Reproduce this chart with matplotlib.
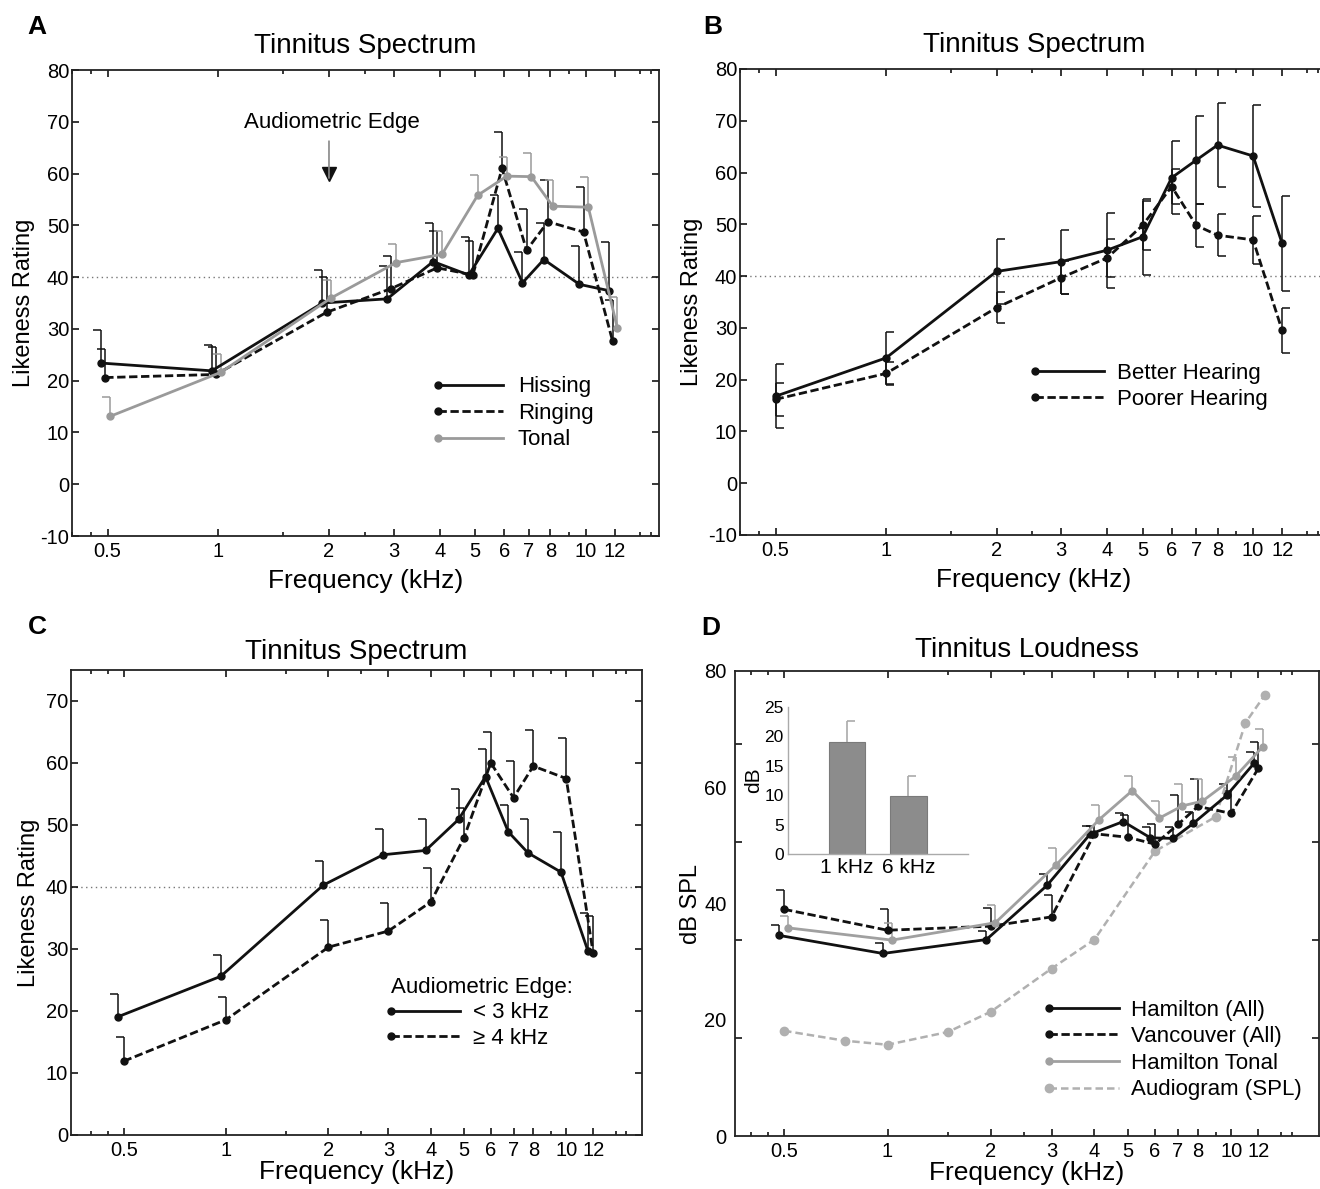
import numpy as np
import matplotlib
matplotlib.use('Agg')
import matplotlib.pyplot as plt
from matplotlib.ticker import NullFormatter
from matplotlib.legend_handler import HandlerLine2D
from matplotlib.lines import Line2D

plt.rcParams['font.family'] = ['Liberation Sans', 'DejaVu Sans']
plt.rcParams['axes.unicode_minus'] = False

# ---- data ----
freqs = [0.5, 1, 2, 3, 4, 5, 6, 7, 8, 10, 12]
freq_labels = ['0.5', '1', '2', '3', '4', '5', '6', '7', '8', '10', '12']
minor_freqs = [0.4, 0.45, 1.5, 2.5, 9, 14, 15]

# A: tinnitus type
hissing = [23.4, 21.9, 35.0, 35.8, 43.0, 40.4, 49.4, 38.9, 43.4, 38.6, 37.4]
hissing_err = [6.3, 5.0, 6.3, 6.4, 7.5, 7.3, 6.5, 6.0, 7.0, 7.5, 9.4]
ringing = [20.6, 21.2, 33.2, 37.8, 41.8, 40.4, 61.0, 45.2, 50.7, 48.7, 27.6]
ringing_err = [5.6, 5.3, 6.8, 6.2, 7.2, 6.6, 7.0, 8.0, 8.1, 8.7, 8.0]
tonal = [13.1, 21.6, 36.0, 42.8, 44.4, 55.8, 59.5, 59.4, 53.7, 53.5, 30.1]
tonal_err = [3.7, 3.5, 3.5, 3.6, 4.6, 3.9, 3.7, 4.6, 5.0, 5.8, 6.0]

# B: hearing
better = [16.8, 24.2, 40.9, 42.8, 45.0, 47.6, 59.0, 62.4, 65.3, 63.2, 46.3]
better_err = [6.2, 5.1, 6.3, 6.2, 7.2, 7.3, 7.0, 8.5, 8.1, 9.8, 9.1]
poorer = [16.2, 21.2, 33.9, 39.7, 43.5, 49.8, 57.3, 49.8, 47.9, 47.0, 29.5]
poorer_err = [3.2, 2.3, 3.0, 3.2, 3.7, 4.8, 3.3, 4.1, 4.0, 4.7, 4.4]

# C: audiometric edge
edge_lt3 = [19.1, 25.6, 40.3, 45.2, 45.9, 50.9, 57.8, 48.9, 45.5, 42.4, 29.7]
edge_lt3_err = [3.7, 3.5, 3.9, 4.1, 5.1, 4.9, 4.4, 4.4, 5.5, 6.5, 6.1]
edge_ge4 = [11.9, 18.6, 30.3, 32.9, 37.6, 47.9, 60.0, 54.4, 59.5, 57.5, 29.3]
edge_ge4_err = [3.9, 3.6, 4.4, 4.5, 5.4, 4.8, 5.0, 6.0, 5.8, 6.6, 6.0]

# D: loudness
hamilton = [34.5, 31.4, 33.8, 43.1, 51.9, 54.1, 51.3, 51.2, 53.8, 58.6, 64.1]
hamilton_err = [1.8, 1.8, 1.5, 2.0, 1.5, 1.5, 1.8, 2.0, 2.0, 2.0, 2.0]
vancouver = [39.0, 35.4, 36.1, 37.7, 52.0, 51.4, 50.2, 53.6, 56.7, 55.5, 63.3]
vancouver_err = [3.4, 3.7, 3.2, 3.8, 1.4, 3.8, 3.4, 5.0, 4.8, 3.8, 4.5]
ham_tonal = [35.8, 33.7, 36.7, 46.6, 54.4, 59.4, 54.7, 56.8, 57.6, 61.9, 67.0]
ham_tonal_err = [2.0, 2.9, 3.1, 2.9, 2.6, 2.6, 2.9, 3.8, 3.9, 3.3, 3.0]
audio_freqs = [0.5, 0.75, 1, 1.5, 2, 3, 4, 6, 9, 11, 12.5]
audiogram = [18.1, 16.4, 15.7, 17.9, 21.4, 28.8, 33.8, 49.0, 54.9, 71.1, 75.8]

inset_labels = ['1 kHz', '6 kHz']
inset_vals = [19.0, 9.8]
inset_err = [3.6, 3.5]

edge_freq = 2

BLACK = '#111111'
GREY = '#9a9a9a'
LIGHT = '#aaaaaa'

W, H = 1320, 1189


def box(l, t, r, b):
    return [l / W, 1 - b / H, (r - l) / W, (b - t) / H]


class DotLeft(HandlerLine2D):
    def create_artists(self, *args, **kw):
        arts = super().create_artists(*args, **kw)
        for a in arts:
            a.set_markevery([0])
        return arts


def style_axis(ax, xlim, labelpad=6):
    ax.set_xscale('log')
    ax.set_xlim(*xlim)
    ax.set_xticks(freqs, freq_labels)
    ax.set_xticks(minor_freqs, minor=True)
    ax.xaxis.set_minor_formatter(NullFormatter())
    ax.tick_params(which='both', direction='in', top=True, right=True,
                   labelsize=14.5, pad=4)
    ax.tick_params(which='major', length=5, width=1.1)
    ax.tick_params(which='minor', length=3, width=1.1)
    ax.tick_params(axis='y', pad=2)
    for s in ax.spines.values():
        s.set_linewidth(1.3)
        s.set_color('#222222')
    ax.set_xlabel('Frequency (kHz)', fontsize=19, labelpad=labelpad)


def series(ax, x, y, err, color, dashed=False, lw=2.0, both=False,
           cap=0, label=None, ms=5):
    x = np.asarray(x, float)
    y = np.asarray(y, float)
    e = np.asarray(err, float)
    lo = y - e if both else y
    ax.vlines(x, lo, y + e, color=color, lw=1.1, zorder=2)
    ax.plot(x, y + e, ls='none', marker=cap, ms=6, mew=1.1, color=color, zorder=2)
    if both:
        ax.plot(x, y - e, ls='none', marker=cap, ms=6, mew=1.1, color=color, zorder=2)
    ls = (0, (3, 1.3)) if dashed else '-'
    ax.plot(x, y, ls=ls, lw=lw, color=color, marker='o', ms=ms,
            label=label, zorder=3)


def ref_line(ax):
    ax.axhline(40, color='#777777', lw=1.0, ls=(0, (1, 2.5)), zorder=1)


fig = plt.figure(figsize=(13.2, 11.89), dpi=100)

# ---------- A ----------
axA = fig.add_axes(box(72, 70, 659, 536))
style_axis(axA, (0.4, 15.8))
axA.set_ylim(-10, 80)
axA.set_yticks(range(-10, 81, 10))
ref_line(axA)
f = np.array(freqs)
series(axA, f * 0.96, hissing, hissing_err, BLACK, label='Hissing')
series(axA, f * 0.985, ringing, ringing_err, BLACK, dashed=True, label='Ringing')
series(axA, f * 1.015, tonal, tonal_err, GREY, label='Tonal')
axA.annotate('', xy=(edge_freq, 58.6), xytext=(edge_freq, 66.8),
             arrowprops=dict(arrowstyle='-', color='#888888', lw=1.2))
axA.plot([edge_freq], [60.0], marker='v', ms=10, color=BLACK, ls='none')
axA.text(edge_freq * 1.02, 69.8, 'Audiometric Edge', ha='center', va='center',
         fontsize=16)
axA.set_ylabel('Likeness Rating', fontsize=17, labelpad=4)
axA.set_title('Tinnitus Spectrum', fontsize=20, pad=12)
axA.legend(loc='center left', bbox_to_anchor=(0.623, 0.263), frameon=False,
           fontsize=16, handlelength=2.95, handletextpad=0.65, labelspacing=0.25,
           borderpad=0, borderaxespad=0, handler_map={Line2D: DotLeft()})

# ---------- B ----------
axB = fig.add_axes(box(740, 69, 1328, 535))
style_axis(axB, (0.4, 16))
axB.set_ylim(-10, 80)
axB.set_yticks(range(-10, 81, 10))
ref_line(axB)
series(axB, f, better, better_err, BLACK, both=True, cap=1, label='Better Hearing')
series(axB, f, poorer, poorer_err, BLACK, dashed=True, both=True, cap=1,
       label='Poorer Hearing')
axB.set_ylabel('Likeness Rating', fontsize=17, labelpad=4)
axB.set_title('Tinnitus Spectrum', fontsize=20, pad=12)
axB.legend(loc='center left', bbox_to_anchor=(0.502, 0.319), frameon=False,
           fontsize=16, handlelength=3.1, handletextpad=0.6, labelspacing=0.2,
           borderpad=0, borderaxespad=0, handler_map={Line2D: DotLeft()})

# ---------- C ----------
axC = fig.add_axes(box(71, 670, 642, 1135))
style_axis(axC, (0.35, 16.7), labelpad=0)
axC.set_ylim(0, 75)
axC.set_yticks(range(0, 71, 10))
ref_line(axC)
series(axC, f * 0.965, edge_lt3, edge_lt3_err, BLACK, label='< 3 kHz')
series(axC, f, edge_ge4, edge_ge4_err, BLACK, dashed=True, label='\u2265 4 kHz')
axC.set_ylabel('Likeness Rating', fontsize=17, labelpad=4)
axC.set_title('Tinnitus Spectrum', fontsize=20, pad=8)
axC.legend(loc='upper left', bbox_to_anchor=(0.56, 0.34), frameon=False,
           fontsize=16, title='Audiometric Edge:', title_fontsize=16,
           alignment='left', handlelength=3.1, handletextpad=0.6,
           labelspacing=0.2, borderpad=0, borderaxespad=0,
           handler_map={Line2D: DotLeft()})

# ---------- D ----------
axD = fig.add_axes(box(735, 671, 1319, 1136))
style_axis(axD, (0.36, 18), labelpad=0)
axD.set_ylim(0, 80)
axD.set_yticks([0, 20, 40, 60, 80])
axD.set_yticks(np.arange(1, 5) * 80 / 95 * 20, minor=True)
axD.tick_params(axis='y', which='major', length=0, pad=6)
axD.tick_params(axis='y', which='minor', length=5)
series(axD, f * 0.97, hamilton, hamilton_err, BLACK, label='Hamilton (All)')
series(axD, f, vancouver, vancouver_err, BLACK, dashed=True, label='Vancouver (All)')
series(axD, f * 1.03, ham_tonal, ham_tonal_err, '#a0a0a0', label='Hamilton Tonal')
axD.plot(audio_freqs, audiogram, ls=(0, (3, 1.6)), lw=1.8, color='#b0b0b0',
         marker='o', ms=6, label='Audiogram (SPL)', zorder=2)
axD.set_ylabel('dB SPL', fontsize=17, labelpad=2)
axD.set_title('Tinnitus Loudness', fontsize=20, pad=10)
axD.legend(loc='center left', bbox_to_anchor=(0.538, 0.185), frameon=False,
           fontsize=16, handlelength=3.15, handletextpad=0.55, labelspacing=0.25,
           borderpad=0, borderaxespad=0, handler_map={Line2D: DotLeft()})

# inset
axI = fig.add_axes(box(788, 707, 968, 854))
xi = np.arange(1, len(inset_vals) + 1)
axI.bar(xi, inset_vals, width=0.6, color='#8c8c8c', edgecolor='#7a7a7a', lw=0.8)
axI.vlines(xi, inset_vals, np.add(inset_vals, inset_err), color=LIGHT, lw=1.2)
axI.plot(xi, np.add(inset_vals, inset_err), ls='none', marker=1, ms=6,
         mew=1.2, color=LIGHT)
axI.set_xlim(0.03, 2.98)
axI.set_ylim(0, 25)
axI.set_yticks(range(0, 26, 5))
axI.set_xticks(xi, inset_labels)
axI.tick_params(length=0, labelsize=12.5)
axI.tick_params(axis='x', labelsize=15, pad=3)
axI.tick_params(axis='y', pad=3)
for s in ['top', 'right']:
    axI.spines[s].set_visible(False)
for s in ['left', 'bottom']:
    axI.spines[s].set_color(LIGHT)
    axI.spines[s].set_linewidth(1.0)
axI.patch.set_alpha(0)
axI.set_ylabel('dB', fontsize=15, labelpad=1)

# panel letters
for letter, (px, py) in zip('ABCD', [(37, 27), (713, 27), (37, 627), (711, 628)]):
    fig.text(px / W, 1 - py / H, letter, fontsize=19, fontweight='bold',
             ha='center', va='center')

fig.savefig('out.png', dpi=100)
